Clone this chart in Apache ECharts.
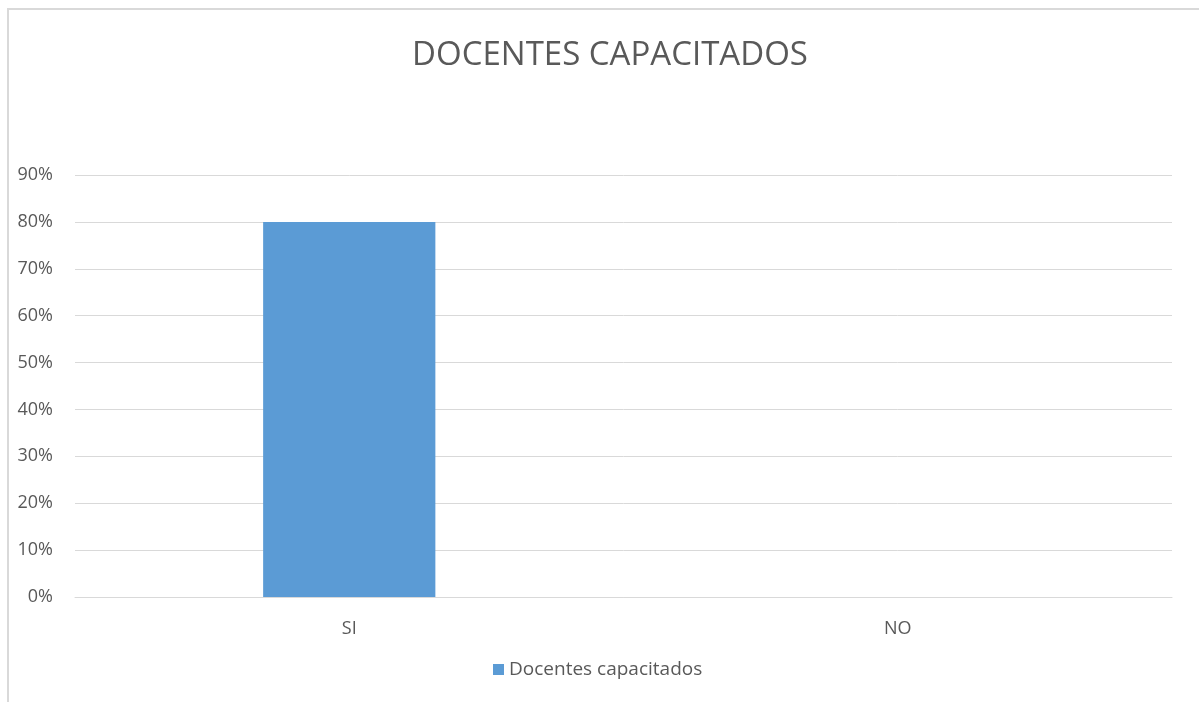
<!DOCTYPE html>
<html>
<head>
<meta charset="utf-8">
<script src="https://cdn.jsdelivr.net/npm/echarts@6/dist/echarts.min.js"></script>
<style>
html,body{margin:0;padding:0;background:#fff;}
#chart{width:1199px;height:702px;}
</style>
</head>
<body>
<div id="chart"></div>
<script>
const titleText = 'DOCENTES CAPACITADOS';
const categories = ['SI', 'NO'];
const seriesName = 'Docentes capacitados';
const values = [0.80, 0];

const chart = echarts.init(document.getElementById('chart'));
const font = 'Open Sans';
chart.setOption({
  animation: false,
  backgroundColor: '#fff',
  graphic: [{
    type: 'rect', silent: true, z: -1,
    shape: { x: 8, y: 9, width: 1400, height: 900 },
    style: { fill: 'none', stroke: '#d9d9d9', lineWidth: 2 }
  }],
  title: {
    text: titleText, left: 605, top: 34, textAlign: 'center',
    textStyle: { fontFamily: font, fontSize: 33, fontWeight: 'normal', color: '#595959' }
  },
  legend: {
    data: [seriesName], left: 488, top: 655, itemWidth: 11, itemHeight: 11, itemGap: 6,
    icon: 'rect',
    textStyle: { fontFamily: font, fontSize: 19, color: '#595959' }
  },
  grid: { left: 75, right: 27, top: 175, bottom: 105, containLabel: false },
  xAxis: {
    type: 'category', data: categories,
    axisLine: { lineStyle: { color: '#d9d9d9', width: 1 } },
    axisTick: { show: false },
    axisLabel: { fontFamily: font, fontSize: 18, color: '#595959', margin: 23 }
  },
  yAxis: {
    type: 'value', min: 0, max: 0.9, interval: 0.1,
    axisLine: { show: false }, axisTick: { show: false },
    splitLine: { lineStyle: { color: '#d9d9d9', width: 1 } },
    axisLabel: {
      fontFamily: font, fontSize: 18, color: '#595959', margin: 22,
      formatter: v => Math.round(v * 100) + '%'
    }
  },
  series: [{
    name: seriesName, type: 'bar', data: values, barWidth: '31.4%',
    itemStyle: { color: '#5b9bd5' }
  }]
});
</script>
</body>
</html>
